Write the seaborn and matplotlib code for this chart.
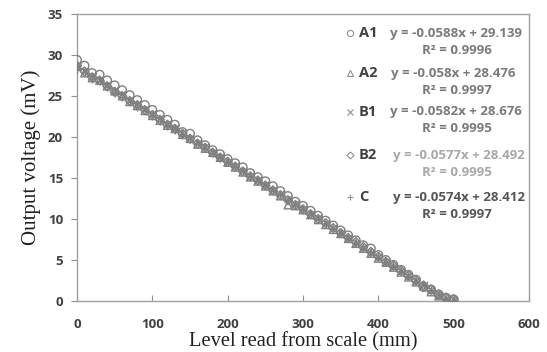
import matplotlib
matplotlib.use("Agg")
import matplotlib.pyplot as plt
from matplotlib.lines import Line2D
import pandas as pd
import seaborn as sns

level = list(range(0, 510, 10))

# Output voltage (mV) for each sensor
a1 = [29.4, 28.7, 27.8, 27.6, 26.9, 26.3, 25.7, 25.1, 24.5, 23.9,
      23.3, 22.7, 22.1, 21.5, 20.6, 20.4, 19.6, 19.0, 18.4, 17.9,
      17.3, 16.8, 16.3, 15.6, 15.1, 14.6, 14.0, 13.4, 12.8, 12.1,
      11.6, 11.0, 10.4, 9.8, 9.2, 8.6, 8.0, 7.4, 6.8, 6.4,
      5.6, 5.0, 4.4, 3.8, 3.2, 2.6, 1.7, 1.4, 0.8, 0.4, 0.2]
a2 = [28.6, 27.8, 27.2, 26.9, 26.2, 25.6, 25.0, 24.3, 23.8, 23.2,
      22.6, 22.0, 21.4, 21.0, 20.3, 19.8, 19.1, 18.6, 18.1, 17.5,
      16.9, 16.3, 15.7, 15.1, 14.6, 14.0, 13.4, 12.8, 11.7, 11.6,
      11.1, 10.5, 9.9, 9.3, 8.7, 8.2, 7.6, 7.0, 6.4, 5.8,
      5.2, 4.7, 4.1, 3.5, 2.9, 2.3, 1.8, 1.1, 0.6, 0.2, 0.0]
b1 = [28.5, 28.1, 27.4, 27.0, 26.3, 25.7, 25.2, 24.5, 24.0, 23.4,
      22.8, 22.3, 21.6, 21.1, 20.5, 19.9, 19.3, 18.8, 18.2, 17.6,
      17.0, 16.5, 15.9, 15.3, 14.7, 14.1, 13.5, 13.0, 12.4, 11.8,
      11.2, 10.6, 10.1, 9.5, 8.9, 8.3, 7.7, 7.1, 6.5, 5.9,
      5.4, 4.8, 4.2, 3.6, 3.0, 2.5, 1.9, 1.3, 0.7, 0.3, 0.1]
b2 = [28.7, 28.0, 27.3, 26.9, 26.2, 25.5, 25.0, 24.4, 23.9, 23.3,
      22.7, 22.1, 21.5, 21.0, 20.4, 19.8, 19.2, 18.7, 18.1, 17.5,
      17.0, 16.4, 15.8, 15.2, 14.7, 14.1, 13.5, 12.9, 12.3, 11.7,
      11.2, 10.6, 10.0, 9.5, 8.9, 8.3, 7.7, 7.2, 6.6, 6.0,
      5.4, 4.8, 4.3, 3.7, 3.1, 2.5, 1.9, 1.4, 0.8, 0.4, 0.2]
c = [28.3, 27.9, 27.1, 26.8, 26.1, 25.4, 24.9, 24.3, 23.7, 23.2,
     22.6, 22.0, 21.4, 20.9, 20.3, 19.8, 19.2, 18.6, 18.1, 17.5,
     16.9, 16.4, 15.8, 15.2, 14.6, 14.0, 13.4, 12.9, 12.3, 11.7,
     11.1, 10.6, 10.0, 9.4, 8.8, 8.3, 7.7, 7.1, 6.5, 6.0,
     5.4, 4.8, 4.3, 3.7, 3.1, 2.5, 2.0, 1.4, 0.8, 0.3, 0.0]

series_names = ["A1", "A2", "B1", "B2", "C"]
series_values = [a1, a2, b1, b2, c]
equations = ["y = -0.0588x + 29.139", "y = -0.058x + 28.476",
             "y = -0.0582x + 28.676", "y = -0.0577x + 28.492",
             "y = -0.0574x + 28.412"]
r_squared = ["R\u00b2 = 0.9996", "R\u00b2 = 0.9997", "R\u00b2 = 0.9995",
             "R\u00b2 = 0.9995", "R\u00b2 = 0.9997"]

x_ticks = [0, 100, 200, 300, 400, 500, 600]
y_ticks = [0, 5, 10, 15, 20, 25, 30, 35]

sns.set_theme(style="white")
plt.rcParams["font.family"] = ["Open Sans", "DejaVu Sans"]

W, H = 547, 352
fig = plt.figure(figsize=(W / 100, H / 100), dpi=100)
ax = fig.add_axes([77 / W, 1 - 301 / H, 452 / W, 287 / H])

markers = {"A1": "o", "A2": "^", "B1": "x", "B2": "D", "C": "+"}
sizes = {"A1": 38, "A2": 30, "B1": 26, "B2": 20, "C": 34}
marker_color = "#808080"
eq_colors = ["#7a7a7a", "#7a7a7a", "#7a7a7a", "#a8a8a8", "#555555"]

frames = []
for name, vals in zip(series_names, series_values):
    frames.append(pd.DataFrame({"level": level, "voltage": vals, "sensor": name}))
data = pd.concat(frames, ignore_index=True)

# Draw in reverse so the open circles (A1) end up on top
for name in reversed(series_names):
    sub = data[data["sensor"] == name]
    m = markers[name]
    if m in ("x", "+"):
        sns.scatterplot(data=sub, x="level", y="voltage", ax=ax, marker=m,
                        s=sizes[name], color=marker_color, linewidth=1.0,
                        legend=False, zorder=3)
    else:
        sns.scatterplot(data=sub, x="level", y="voltage", ax=ax, marker=m,
                        s=sizes[name], facecolor="none",
                        edgecolor=marker_color, linewidth=1.0,
                        legend=False, zorder=3)

ax.set_xlim(0, 600)
ax.set_ylim(0, 35)
ax.set_xticks(x_ticks)
ax.set_yticks(y_ticks)
ax.set_xticklabels([str(t) for t in x_ticks], fontsize=9.5, fontweight="bold",
                   color="#404040")
ax.set_yticklabels([str(t) for t in y_ticks], fontsize=9.5, fontweight="bold",
                   color="#404040")
ax.tick_params(axis="x", direction="in", length=4, width=0.8, color="#909090",
               pad=12, bottom=True)
ax.tick_params(axis="y", direction="out", length=4, width=0.8, color="#909090",
               pad=6, left=True)

for sp in ax.spines.values():
    sp.set_color("#a0a0a0")
    sp.set_linewidth(1.0)
    sp.set_visible(True)

serif = ["Liberation Serif", "DejaVu Serif"]
ax.set_xlabel("Level read from scale (mm)", fontsize=14.8, family=serif,
              color="#202020")
ax.xaxis.set_label_coords(0.5, -0.108)
ax.set_ylabel("Output voltage (mV)", fontsize=15, family=serif,
              color="#202020", labelpad=5)

# Legend with fitted trend-line equations
row_y = [33, 73, 112, 155, 197]
eq_x = [390, 391, 390, 393, 393]
for i, name in enumerate(series_names):
    ypix = 1 - row_y[i] / H
    m = markers[name]
    fig.lines.append(Line2D([350 / W], [ypix], transform=fig.transFigure,
                            marker=m, markersize=4.5 if m != "D" else 3.5,
                            markerfacecolor="none", markeredgecolor="#909090",
                            markeredgewidth=0.8, linestyle="none"))
    fig.text(359 / W, ypix, name, fontsize=10.5, fontweight="bold",
             color="#404040", va="center", ha="left")
    fig.text(eq_x[i] / W, ypix, equations[i], fontsize=9.5, fontweight="bold",
             color=eq_colors[i], va="center", ha="left")
    fig.text(457 / W, 1 - (row_y[i] + 17) / H, r_squared[i], fontsize=9.5,
             fontweight="bold", color=eq_colors[i], va="center", ha="center")

fig.savefig("out.png", dpi=100)
